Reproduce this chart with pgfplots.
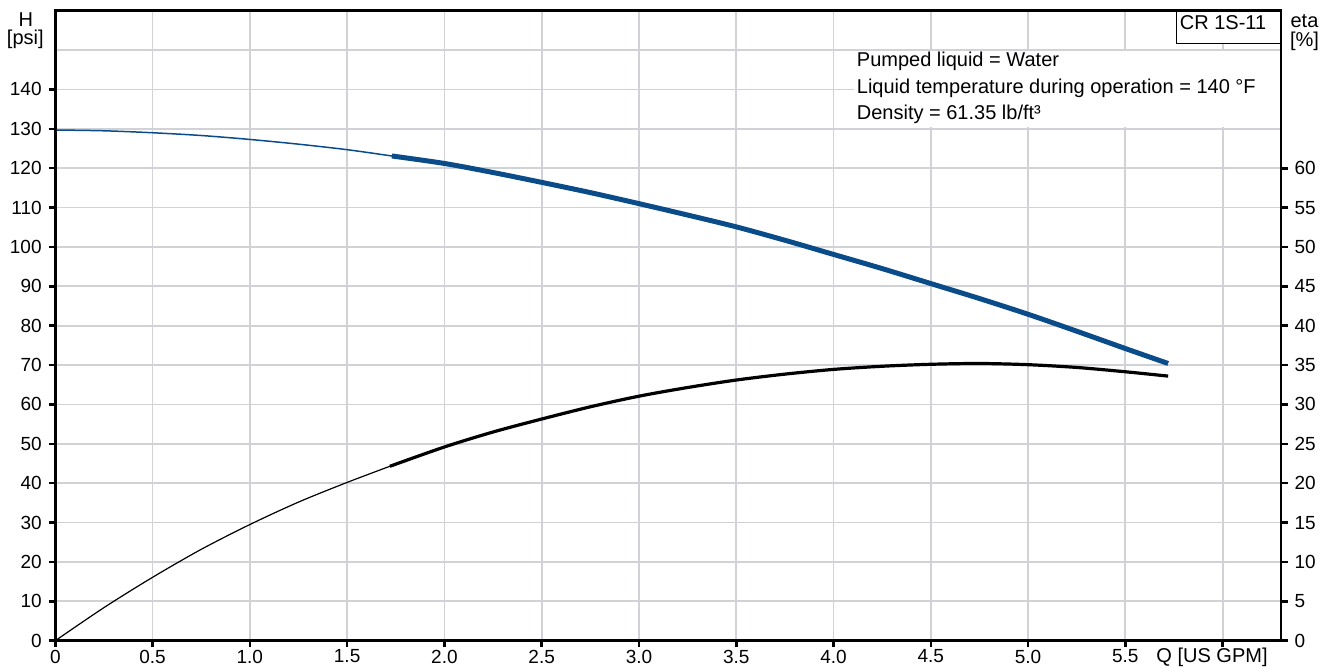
\documentclass[border=0pt]{standalone}
\usepackage{fontspec}
\setmainfont{Liberation Sans}
\usepackage{pgfplots}
\pgfplotsset{compat=1.18}
\definecolor{hblue}{RGB}{10,76,138}
\definecolor{gridgray}{RGB}{208,210,214}
\newcommand{\lbl}{\fontsize{10}{12}\selectfont}
\newcommand{\tkl}{\fontsize{9.5}{11}\selectfont}
\begin{document}
\begin{tikzpicture}
\pgfplotsset{
  common/.style={
    width=612.85pt, height=315pt, scale only axis,
    xmin=0, xmax=6.3,
    axis line style={line width=1.3pt, black},
    tick style={black, line width=1.3pt},
    major tick length=3.3pt,
    tick align=outside,
    /pgf/number format/assume math mode=true,
    tick label style={font=\tkl},
    clip=false,
  }
}
\begin{axis}[common,
  ymin=0, ymax=160,
  xtick={0,0.5,1,1.5,2,2.5,3,3.5,4,4.5,5,5.5,6},
  xticklabels={0,0.5,1.0,1.5,2.0,2.5,3.0,3.5,4.0,4.5,5.0,5.5,{}},
  xticklabel shift=-2.3pt,
  ytick={0,10,20,30,40,50,60,70,80,90,100,110,120,130,140},
  extra y ticks={150},
  extra y tick labels={},
  extra y tick style={major tick length=0pt, grid=major},
  xtick pos=bottom, ytick pos=left,
  grid=major,
  grid style={color=gridgray, line width=0.9pt},
]
% H curve, thin part
\addplot[hblue, line width=0.75pt, smooth] coordinates {
 (0,129.7) (0.25,129.5) (0.5,129.0) (0.75,128.3) (1.0,127.3) (1.25,126.1) (1.5,124.7) (1.73,123.1)
};
% H curve, thick part
\addplot[hblue, line width=2.5pt, smooth] coordinates {
 (1.73,123.1) (2.0,121.2) (2.25,118.9) (2.5,116.4) (2.75,113.8) (3.0,111.0) (3.25,108.1) (3.5,105.1) (3.75,101.7) (4.0,98.1) (4.25,94.5) (4.5,90.7) (4.75,86.9) (5.0,82.9) (5.25,78.6) (5.5,74.2) (5.72,70.4)
};
% info boxes
\fill[white] (axis cs:4.107,130.4) rectangle (axis cs:6.3,149.7);
\fill[white] (axis cs:5.761,151.7) rectangle (axis cs:6.3,160);
\draw[black, line width=0.6pt] (axis cs:5.761,151.7) rectangle (axis cs:6.3,160);
\end{axis}
\begin{axis}[common,
  ymin=0, ymax=80,
  xtick=\empty,
  ytick={0,5,10,15,20,25,30,35,40,45,50,55,60},
  ytick pos=right, yticklabel pos=right,
]
\addplot[black, line width=0.6pt, smooth] coordinates {
 (0,0) (0.25,4.2) (0.5,8.05) (0.75,11.6) (1.0,14.75) (1.25,17.6) (1.5,20.1) (1.72,22.15)
};
\addplot[black, line width=1.6pt, smooth] coordinates {
 (1.72,22.15) (2.0,24.6) (2.25,26.5) (2.5,28.15) (2.75,29.7) (3.0,31.05) (3.25,32.15) (3.5,33.1) (3.75,33.85) (4.0,34.45) (4.25,34.85) (4.5,35.1) (4.75,35.2) (5.0,35.05) (5.25,34.7) (5.5,34.15) (5.72,33.6)
};
\end{axis}
% labels
\node[anchor=base, inner sep=0, font=\lbl] at (-14.75pt,307.3pt) {H};
\node[anchor=base, inner sep=0, font=\lbl] at (-15pt,298pt) {[psi]};
\node[anchor=base, inner sep=0, font=\lbl] at (624.6pt,306.6pt) {eta};
\node[anchor=base, inner sep=0, font=\lbl] at (624.6pt,297.3pt) {[\%]};
\node[anchor=base, inner sep=0, font=\lbl] at (578.35pt,-11pt) {Q [US GPM]};
\node[anchor=base west, inner sep=0, font=\lbl] at (562.1pt,305.35pt) {CR 1S-11};
\node[anchor=base west, inner sep=0, font=\lbl] at (400.6pt,287pt) {Pumped liquid = Water};
\node[anchor=base west, inner sep=0, font=\lbl] at (400.6pt,273.7pt) {Liquid temperature during operation = 140 °F};
\node[anchor=base west, inner sep=0, font=\lbl] at (400.6pt,260.7pt) {Density = 61.35 lb/ft³};
\pgfresetboundingbox
\path (-27.65pt,-13.65pt) rectangle (638.35pt,320.35pt);
\end{tikzpicture}
\end{document}
